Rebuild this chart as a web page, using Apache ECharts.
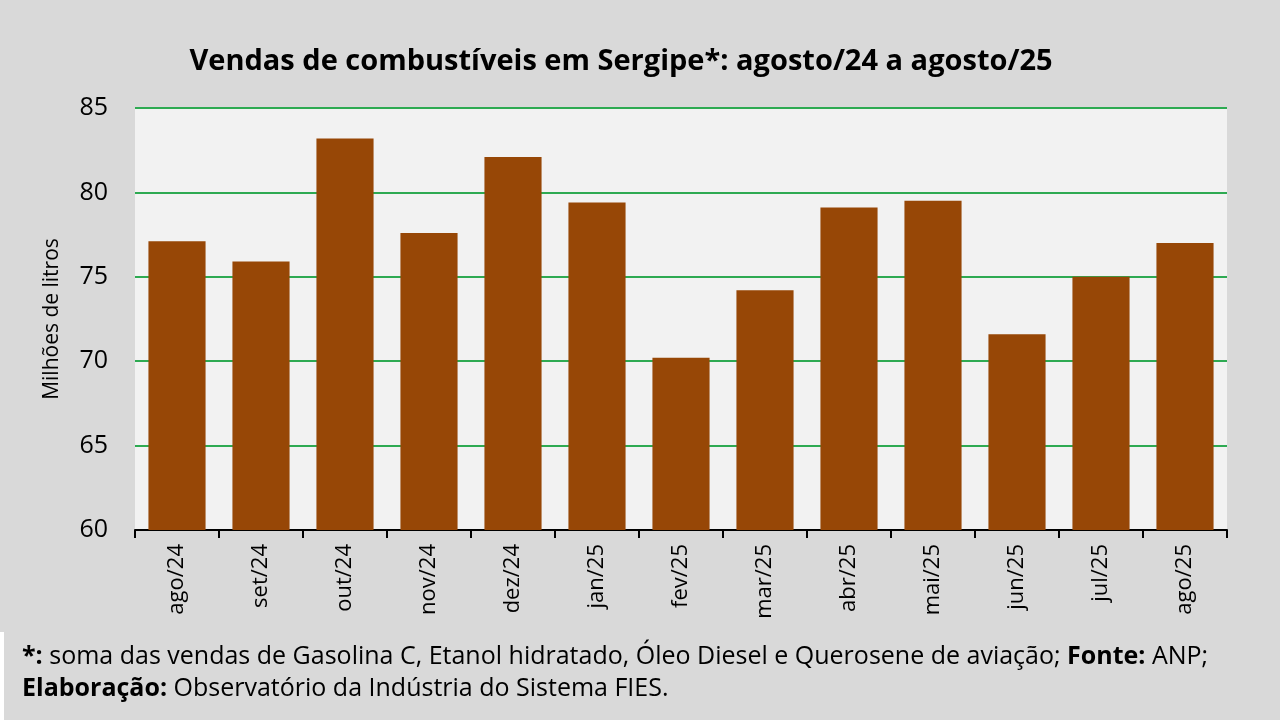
<!DOCTYPE html>
<html><head><meta charset="utf-8">
<script src="https://cdn.jsdelivr.net/npm/echarts@6/dist/echarts.min.js"></script>
<style>html,body{margin:0;padding:0;background:#d9d9d9;}#c{width:1280px;height:720px;}</style>
</head><body><div id="c"></div>
<script>
const categories = ['ago/24','set/24','out/24','nov/24','dez/24','jan/25','fev/25','mar/25','abr/25','mai/25','jun/25','jul/25','ago/25'];
const sales = [77.1, 75.9, 83.2, 77.6, 82.1, 79.4, 70.2, 74.2, 79.1, 79.5, 71.6, 75.0, 77.0];
const yTicks = [60, 65, 70, 75, 80, 85];
const FONT = '"Open Sans", "Noto Sans", sans-serif';
const chart = echarts.init(document.getElementById('c'));
chart.setOption({
  backgroundColor: '#d9d9d9',
  animation: false,
  title: {
    text: 'Vendas de combustíveis em Sergipe*: agosto/24 a agosto/25',
    left: 616, top: 42, textAlign: 'center',
    textStyle: {fontFamily: FONT, fontSize: 29, fontWeight: 'bold', color: '#000'}
  },
  grid: {left: 135, right: 53, top: 108, bottom: 190, show: true, backgroundColor: '#f2f2f2', borderWidth: 0},
  xAxis: {
    type: 'category', data: categories,
    axisLine: {lineStyle: {color: '#000', width: 2}},
    axisTick: {show: true, length: 8, lineStyle: {color: '#000', width: 2}},
    axisLabel: {rotate: 90, fontFamily: FONT, fontSize: 22, color: '#000', margin: 14}
  },
  yAxis: {
    type: 'value', min: yTicks[0], max: yTicks[yTicks.length-1], interval: 5,
    name: 'Milhões de litros', nameLocation: 'middle', nameGap: 72, nameRotate: 90,
    nameTextStyle: {fontFamily: FONT, fontSize: 21, color: '#000'},
    axisLine: {show: false}, axisTick: {show: false},
    axisLabel: {fontFamily: FONT, fontSize: 25, color: '#000', margin: 27},
    splitLine: {lineStyle: {color: '#2eaa52', width: 2}}
  },
  series: [{
    type: 'bar', data: sales, barWidth: '68%',
    itemStyle: {color: '#974706'}
  }],
  graphic: [
    {type: 'rect', left: 0, top: 632, shape: {width: 4, height: 88}, style: {fill: '#ffffff'}, z: 0},
    {type: 'text', left: 22, top: 641, style: {
      text: '{b|*:} soma das vendas de Gasolina C, Etanol hidratado, Óleo Diesel e Querosene de aviação; {b|Fonte:} ANP;\n{b|Elaboração:} Observatório da Indústria do Sistema FIES.',
      font: '25px ' + FONT, fill: '#000', lineHeight: 32,
      rich: {b: {fontWeight: 'bold', fontFamily: FONT, fontSize: 25, fill: '#000'}}
    }}
  ]
});
</script></body></html>
